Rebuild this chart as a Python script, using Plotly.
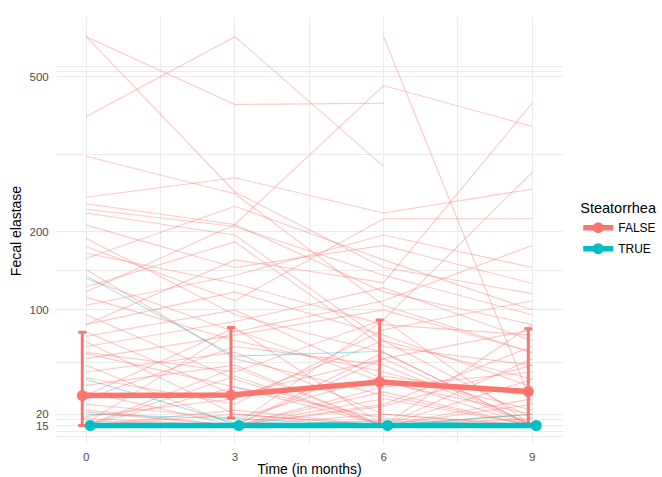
import numpy as np
import plotly.graph_objects as go

# ---------------- data ----------------
times = [0, 3, 6, 9]

# Individual trajectories, Steatorrhea = FALSE  (values at months 0, 3, 6, 9)
false_subjects = [
    [599, 436, 439, None],
    [599, 264, 150, 118],
    [410, 599, 310, None],
    [120, 211, 479, 389],
    [None, None, 599, 25],
    [85, 160, 131, 439],
    [60, 45, 90, 299],
    [255, 289, 229, 269],
    [178, 110, 220, 220],
    [329, 261, 105, 60],
    [244, 211, 120, 85],
    [235, 208, 140, 95],
    [229, 195, 70, 40],
    [210, 150, 180, 130],
    [190, 95, 60, 15],
    [169, 130, 85, 75],
    [162, 240, 160, 100],
    [147, 55, 30, 15],
    [136, 78, 110, 180],
    [126, 185, 65, 50],
    [114, 70, 45, 22],
    [105, 140, 195, 150],
    [95, 40, 15, 15],
    [85, 120, 75, 35],
    [78, 30, 55, 80],
    [74, 100, 40, 15],
    [69, 20, 15, 28],
    [65, 88, 125, 70],
    [59, 35, 15, 20],
    [55, 75, 100, 60],
    [50, 15, 35, 45],
    [45, 60, 20, 15],
    [41, 25, 80, 110],
    [36, 50, 15, 15],
    [32, 15, 25, 65],
    [28, 65, 50, 15],
    [25, 18, 42, 30],
    [21, 15, 15, 55],
    [19, 28, 70, 18],
    [17, 15, 20, 15],
    [15, 42, 15, 25],
    [15, 15, 28, 15],
    [15, 22, 15, 40],
    [15, 15, 55, 15],
    [15, 15, 15, 18],
    [15, 35, 18, 15],
    [15, 15, 15, 15],
    [16, 80, 38, 20],
    [15, 15, 60, 15],
    [15, 20, 15, 85],
    [18, 15, 32, 15],
    [15, 48, 15, 15],
    [22, 15, 24, 50],
    [15, 15, 90, 15],
    [30, 82, 15, 15],
    [15, 15, 15, 15],
]

# Individual trajectories, Steatorrhea = TRUE
true_subjects = [
    [139, 57, 61, None],
    [40, 16, 15, 15],
    [20, 18, 15, 15],
    [15, 15, 15, 20],
    [15, 15, 15, 15],
    [15, 15, 17, 15],
]

# Group summaries (centre, lower, upper)
false_mid = [29.8, 30.1, 38.1, 32.2]
false_low = [15, 18.2, 15, 15]
false_high = [77.7, 82.1, 89.6, 81.1]

true_mid = [15, 15, 15, 15]
true_low = [15, 15, 15, 15]
true_high = [15, 15, 15, 15]

y_breaks = [15, 20, 100, 200, 500]
y_extra_grid = [513, 524]
x_breaks = [0, 3, 6, 9]

# ---------------- figure ----------------
RED = "#F8766D"
CYAN = "#00BFC4"


def sq(vals):
    return [np.sqrt(v) if v is not None else None for v in vals]


fig = go.Figure()

for subj in false_subjects:
    fig.add_trace(go.Scatter(
        x=times, y=sq(subj), mode="lines",
        line=dict(color="rgba(248,118,109,0.4)", width=1.1),
        showlegend=False, hoverinfo="skip"))

for subj in true_subjects:
    fig.add_trace(go.Scatter(
        x=times, y=sq(subj), mode="lines",
        line=dict(color="rgba(0,191,196,0.4)", width=1.1),
        showlegend=False, hoverinfo="skip"))

dodge = 0.08


def add_summary(mid, low, high, color, name, offset):
    ym = np.sqrt(mid)
    fig.add_trace(go.Scatter(
        x=[t + offset for t in times], y=ym, mode="lines+markers",
        name=name, legendgroup=name,
        line=dict(color=color, width=5.5),
        marker=dict(color=color, size=11),
        error_y=dict(type="data", symmetric=False,
                     array=np.sqrt(high) - ym,
                     arrayminus=ym - np.sqrt(low),
                     color=color, thickness=3, width=4),
    ))


add_summary(false_mid, false_low, false_high, RED, "FALSE", -dodge)
add_summary(true_mid, true_low, true_high, CYAN, "TRUE", dodge)

# minor gridlines in sqrt space (midpoints between breaks)
sb = np.sqrt(y_breaks)
step0 = sb[1] - sb[0]
ext = [sb[0] - step0] + list(sb)
y_minor = [ext[0]] + [(ext[i] + ext[i + 1]) / 2 for i in range(len(ext) - 1)]

fig.update_layout(
    width=662, height=477,
    margin=dict(l=56, r=99, t=17, b=32, autoexpand=False),
    paper_bgcolor="white", plot_bgcolor="white",
    font=dict(family="Liberation Sans, Arial, sans-serif", color="#000000"),
    legend=dict(
        title=dict(text="Steatorrhea", font=dict(size=14.5, color="#000")),
        font=dict(size=12, color="#000"),
        x=1.03, xanchor="left", y=0.505, yanchor="middle",
        itemwidth=30, bgcolor="rgba(0,0,0,0)", tracegroupgap=2,
    ),
)

fig.update_xaxes(
    range=[-0.61, 9.62], automargin=False,
    tickvals=x_breaks, ticktext=[str(v) for v in x_breaks],
    showgrid=True, gridcolor="#EBEBEB", gridwidth=1.2,
    minor=dict(tickvals=[1.5, 4.5, 7.5], showgrid=True,
               gridcolor="#EBEBEB", gridwidth=0.7),
    zeroline=False, showline=False,
    ticks="outside", ticklen=1, tickcolor="rgba(0,0,0,0)",
    tickfont=dict(size=11.5, color="#4D4D4D"),
    title=dict(text="Time (in months)", font=dict(size=14, color="#000"),
               standoff=4),
)

fig.update_yaxes(
    range=[2.84, 25.52], automargin=False,
    tickvals=list(np.sqrt(y_breaks + y_extra_grid)),
    ticktext=[str(v) for v in y_breaks] + ["" for _ in y_extra_grid],
    showgrid=True, gridcolor="#EBEBEB", gridwidth=1.2,
    minor=dict(tickvals=y_minor, showgrid=True,
               gridcolor="#EBEBEB", gridwidth=0.7),
    zeroline=False, showline=False,
    ticks="outside", ticklen=4, tickcolor="rgba(0,0,0,0)",
    tickfont=dict(size=11.5, color="#4D4D4D"),
    title=dict(text="Fecal elastase", font=dict(size=14, color="#000"),
               standoff=4),
)

# remove the browser's default 8px page margin so the figure fills the window
fig.write_html("out.html",
               config={"displayModeBar": False},
               post_script="document.body.style.margin='0';"
                           "document.body.style.overflow='hidden';")
